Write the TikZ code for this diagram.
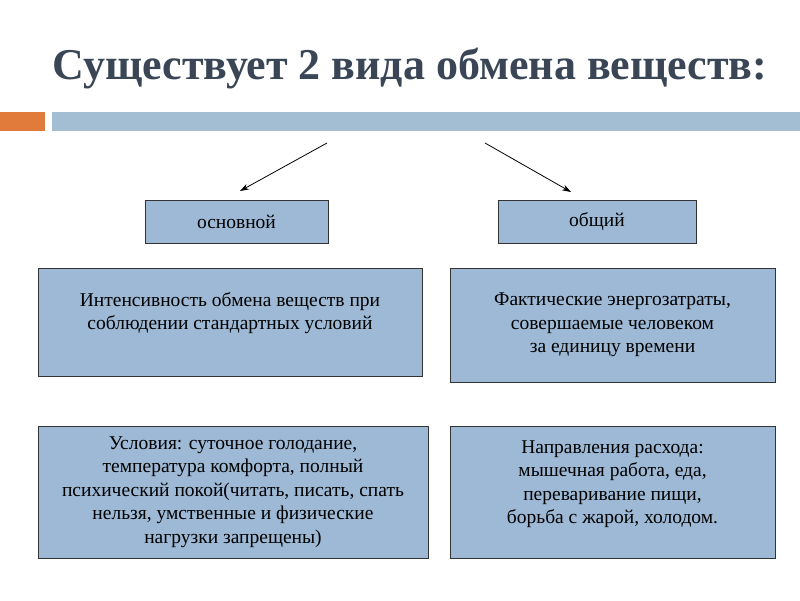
\documentclass[tikz,border=0pt]{standalone}
\usepackage{fontspec}
\usetikzlibrary{arrows.meta}
\setmainfont{Liberation Serif}
\begin{document}
\begin{tikzpicture}[x=1pt,y=-1pt,
  bx/.style={draw=black!80,fill=blue1,line width=0.8pt,align=center,inner sep=0pt,font=\fontsize{19.5}{23.5}\selectfont},
  arr/.style={-{Stealth[length=9pt,width=6pt]},line width=0.8pt}]
\definecolor{blue1}{HTML}{9DB9D5}
\definecolor{bar}{HTML}{A3BDD3}
\definecolor{org}{HTML}{E07B3C}
\definecolor{ttl}{HTML}{3A4656}
\useasboundingbox (0,0) rectangle (800,600);
\fill[white] (0,0) rectangle (800,600);
\node[font=\fontsize{44}{48}\selectfont\bfseries,text=ttl] (title) at (410,68) {Существует 2 вида обмена веществ:};
\fill[org] (0,112) rectangle (45,131);
\fill[bar] (52,112) rectangle (800,131);
\node[bx,minimum width=183,minimum height=43] (a) at (236.5,221.5) {основной};
\node[bx,minimum width=198,minimum height=43] (b) at (597,221.5) {общий};
\node[bx,minimum width=384,minimum height=108] (c) at (230,322) {Интенсивность обмена веществ при\\соблюдении стандартных условий\\[-2pt]};
\node[bx,minimum width=325,minimum height=114] (d) at (612.5,325) {Фактические энергозатраты,\\совершаемые человеком\\за единицу времени};
\node[bx,minimum width=390,minimum height=132] (e) at (233,492) {Условия: суточное голодание,\\температура комфорта, полный\\психический покой(читать, писать, спать\\нельзя, умственные и физические\\нагрузки запрещены)};
\node[bx,minimum width=325,minimum height=132] (f) at (612.5,492) {Направления расхода:\\мышечная работа, еда,\\переваривание пищи,\\борьба с жарой, холодом.\\[-4pt]};
\coordinate (s1) at (327,143);
\coordinate (s2) at (485,143);
\coordinate (t1) at (240,191);
\coordinate (t2) at (571,192);
\draw[arr] (s1) -- (t1);
\draw[arr] (s2) -- (t2);
\end{tikzpicture}
\end{document}
